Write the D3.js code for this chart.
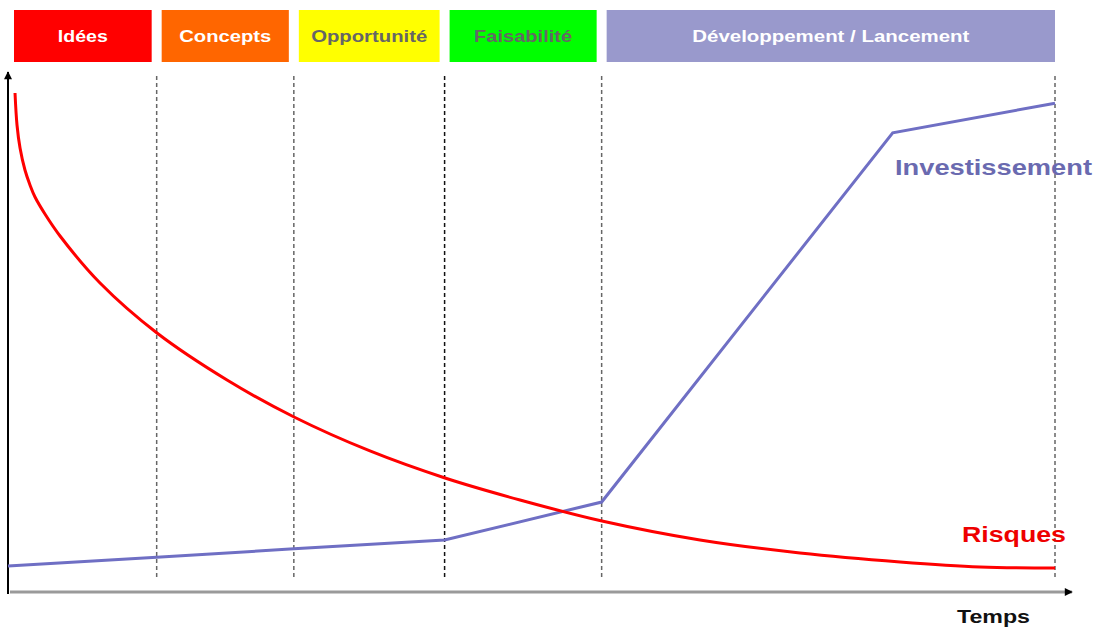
<!DOCTYPE html>
<html>
<head>
<meta charset="utf-8">
<script src="https://cdn.jsdelivr.net/npm/d3@7"></script>
<style>
  body { margin: 0; background: #fff; }
  text { font-family: "Liberation Sans", Arial, sans-serif; font-weight: bold; }
</style>
</head>
<body>
<div id="chart"></div>
<script>
// Data
var phases = ["Idées", "Concepts", "Opportunité", "Faisabilité", "Développement / Lancement"];
var phaseColors = ["#ff0000", "#ff6600", "#ffff00", "#00ff00", "#9999cc"];
var phaseText = ["#ffffff", "#ffffff", "#666666", "#666666", "#ffffff"];
var phaseTextWidth = [50, 92, 116, 98, 277];
var bounds = [0, 14.2, 27.3, 41.7, 56.7, 100];

var risqueT = [0.67, 0.86, 1.15, 1.62, 2.1, 2.58, 3.53, 4.97, 8.79, 14.23, 20.92, 27.32, 34.57, 41.74, 48.9, 56.73, 66.09, 75.64, 85.2, 92.84, 100];
var risqueV = [95.96, 89.81, 85.38, 81.15, 78.27, 75.96, 72.69, 68.46, 59.42, 49.81, 40.77, 33.65, 27.12, 21.92, 17.69, 13.65, 10.0, 7.5, 5.77, 4.81, 4.62];

var investT = [0, 14.2, 27.3, 41.7, 56.7, 84.5, 100];
var investV = [5.0, 6.7, 8.3, 10.0, 17.3, 88.3, 94.0];

var svgWidth = 1110;
var svgHeight = 627;

var svg = d3.select("#chart")
  .append("svg")
  .attr("width", svgWidth)
  .attr("height", svgHeight);

// scales
var x = d3.scaleLinear().domain([0, 100]).range([8, 1055]);
var y = d3.scaleLinear().domain([0, 100]).range([592, 72]);

// arrow marker
var defs = svg.append("defs");
defs.append("marker")
  .attr("id", "arrow")
  .attr("viewBox", "0 0 10 10")
  .attr("refX", 9).attr("refY", 5)
  .attr("markerWidth", 10).attr("markerHeight", 8)
  .attr("markerUnits", "userSpaceOnUse")
  .attr("orient", "auto")
  .append("path")
  .attr("d", "M0,0 L10,5 L0,10 z")
  .attr("fill", "#000");

// header boxes
var header = svg.append("g");
phases.forEach(function(p, i) {
  var x0 = i == 0 ? 14 : x(bounds[i]) + 5;
  var x1 = i == phases.length - 1 ? x(bounds[i + 1]) : x(bounds[i + 1]) - 5;
  header.append("rect")
    .attr("x", x0).attr("y", 10)
    .attr("width", x1 - x0).attr("height", 52)
    .attr("fill", phaseColors[i]);
  header.append("text")
    .attr("x", (x0 + x1) / 2).attr("y", 42)
    .attr("text-anchor", "middle")
    .attr("font-size", 16)
    .attr("fill", phaseText[i])
    .attr("textLength", phaseTextWidth[i])
    .attr("lengthAdjust", "spacingAndGlyphs")
    .text(p);
});

// dashed phase separators
svg.selectAll(".sep")
  .data(bounds.slice(1))
  .enter()
  .append("line")
  .attr("x1", d => x(d)).attr("x2", d => x(d))
  .attr("y1", 76).attr("y2", 580)
  .attr("stroke", (d, i) => i == 2 ? "#111" : "#666")
  .attr("stroke-width", 1.5)
  .attr("stroke-dasharray", "4,3");

// axes
svg.append("line")
  .attr("x1", 10).attr("y1", 592)
  .attr("x2", 1072).attr("y2", 592)
  .attr("stroke", "#9a9a9a")
  .attr("stroke-width", 3)
  .attr("marker-end", "url(#arrow)");
svg.append("line")
  .attr("x1", 8).attr("y1", 594)
  .attr("x2", 8).attr("y2", 72)
  .attr("stroke", "#000")
  .attr("stroke-width", 2)
  .attr("marker-end", "url(#arrow)");

// curves
var risque = risqueT.map((t, i) => [t, risqueV[i]]);
var invest = investT.map((t, i) => [t, investV[i]]);

var smooth = d3.line()
  .x(d => x(d[0])).y(d => y(d[1]))
  .curve(d3.curveCatmullRom.alpha(0.5));
var straight = d3.line()
  .x(d => x(d[0])).y(d => y(d[1]));

svg.append("path")
  .attr("d", straight(invest))
  .attr("fill", "none")
  .attr("stroke", "#6f6fc4")
  .attr("stroke-width", 3);

svg.append("path")
  .attr("d", smooth(risque))
  .attr("fill", "none")
  .attr("stroke", "#ff0000")
  .attr("stroke-width", 3);

// labels
svg.append("text")
  .attr("x", 895).attr("y", 175)
  .attr("font-size", 22)
  .attr("fill", "#6a6ab0")
  .attr("textLength", 197)
  .attr("lengthAdjust", "spacingAndGlyphs")
  .text("Investissement");
svg.append("text")
  .attr("x", 962).attr("y", 542)
  .attr("font-size", 22)
  .attr("fill", "#ee0000")
  .attr("textLength", 104)
  .attr("lengthAdjust", "spacingAndGlyphs")
  .text("Risques");
svg.append("text")
  .attr("x", 957).attr("y", 623)
  .attr("font-size", 19)
  .attr("fill", "#111")
  .attr("textLength", 73)
  .attr("lengthAdjust", "spacingAndGlyphs")
  .text("Temps");
</script>
</body>
</html>
